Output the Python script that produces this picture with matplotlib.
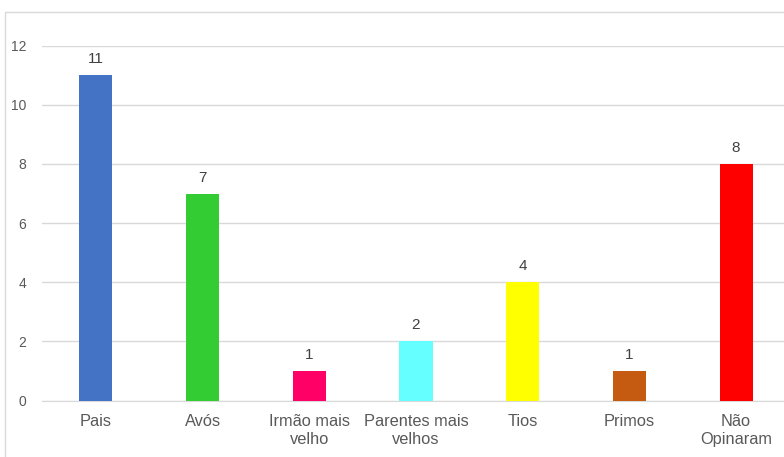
import matplotlib
matplotlib.use("Agg")
import matplotlib.pyplot as plt
from matplotlib.patches import Rectangle

categories = ["Pais", "Avós", "Irmão mais\nvelho", "Parentes mais\nvelhos", "Tios", "Primos", "Não\nOpinaram"]
values = [11, 7, 1, 2, 4, 1, 8]
colors = ["#4472C4", "#33CC33", "#FF0066", "#66FFFF", "#FFFF00", "#C55A11", "#FF0000"]
yticks = [0, 2, 4, 6, 8, 10, 12]

plt.rcParams['font.family'] = ['Liberation Sans', 'DejaVu Sans']

W, H = 784, 457
fig = plt.figure(figsize=(W/100, H/100), dpi=100)
fig.patch.set_facecolor("white")

# outer chart frame (partially visible)
fig.patches.append(Rectangle((5/W, -0.1), 1.2, (457-12)/H + 0.1, transform=fig.transFigure,
                             fill=False, edgecolor="#d9d9d9", linewidth=1.0))

ax = fig.add_axes([42/W, (H-400.5)/H, 748/W, (400.5-45.7)/H])
x = list(range(len(categories)))
ax.bar(x, values, width=0.31, color=colors, zorder=3)
ax.set_ylim(0, 12)
ax.set_xlim(-0.505, 6.505)
ax.set_yticks(yticks)
ax.yaxis.grid(True, color="#d9d9d9", linewidth=1.0, zorder=0)
for s in ["top", "right", "left"]:
    ax.spines[s].set_visible(False)
ax.spines["bottom"].set_color("#d9d9d9")
ax.tick_params(axis="both", length=0, colors="#595959")
ax.tick_params(axis="y", labelsize=10, pad=11.5)
ax.tick_params(axis="x", labelsize=11.8, pad=10)
ax.set_xticks(x)
ax.set_xticklabels(categories, linespacing=1.2)
for xi, v in zip(x, values):
    ax.text(xi, v + 0.3, str(v), ha="center", va="bottom", fontsize=11, color="#404040")

fig.savefig("out.png", dpi=100)
